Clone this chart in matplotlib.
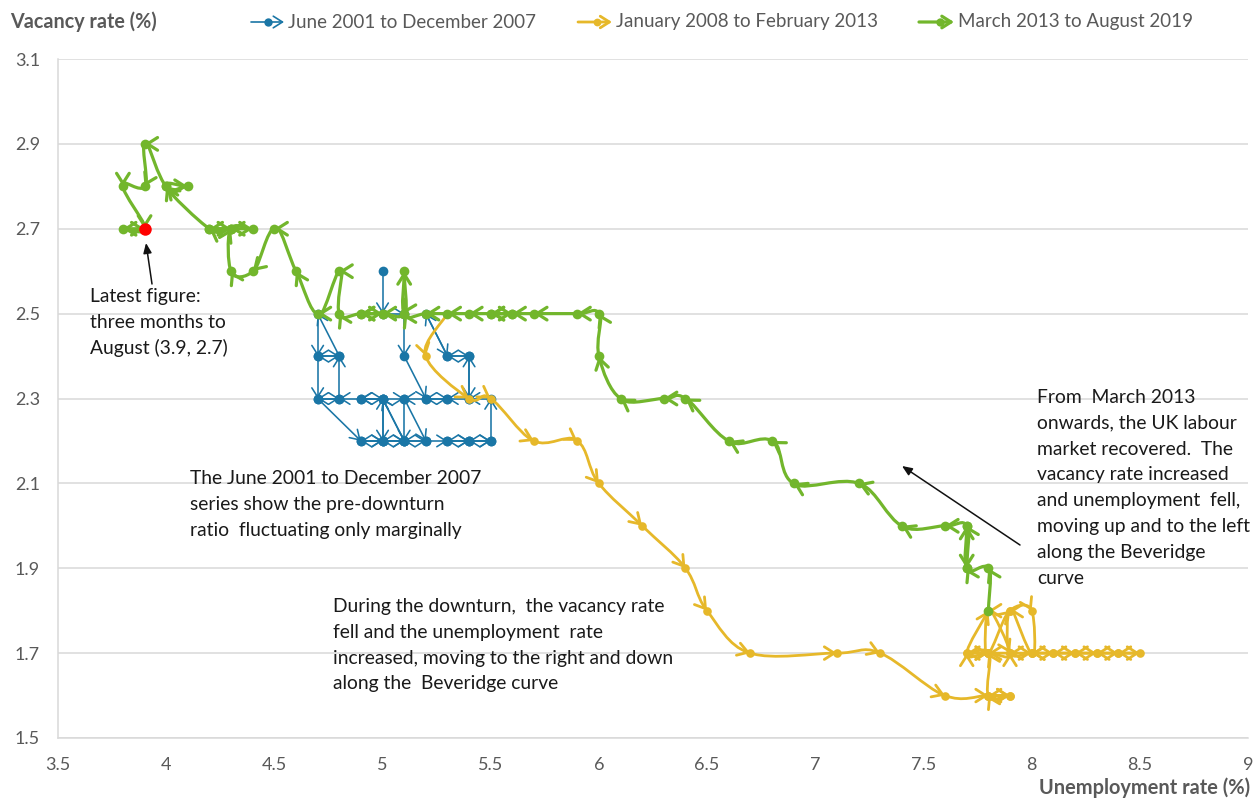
import numpy as np
import matplotlib
matplotlib.use("Agg")
import matplotlib.pyplot as plt
from matplotlib.path import Path
from matplotlib.patches import FancyArrowPatch
from matplotlib.lines import Line2D

# ---------------- data ----------------
blue_unemp = [5.0, 5.0, 5.1, 5.1, 5.2, 5.1, 5.1, 5.0, 5.1, 5.2, 5.1, 5.0, 5.0, 4.9, 5.0, 5.0,
              4.9, 5.0, 5.1, 5.0, 4.9, 4.8, 4.8, 4.7, 4.7, 4.8, 4.7, 4.7, 4.8, 4.7, 4.9, 5.0,
              5.1, 5.2, 5.3, 5.4, 5.3, 5.4, 5.5, 5.4, 5.5, 5.5, 5.4, 5.4, 5.3, 5.2, 5.3, 5.4,
              5.4, 5.3, 5.2, 5.3]
blue_vac = [2.6, 2.5, 2.5, 2.4, 2.3, 2.3, 2.2, 2.3, 2.3, 2.2, 2.2, 2.2, 2.3, 2.3, 2.3, 2.2,
            2.2, 2.2, 2.2, 2.3, 2.3, 2.3, 2.4, 2.5, 2.4, 2.4, 2.4, 2.3, 2.3, 2.3, 2.2, 2.2,
            2.2, 2.2, 2.2, 2.2, 2.2, 2.2, 2.2, 2.2, 2.2, 2.3, 2.3, 2.4, 2.4, 2.5, 2.4, 2.4,
            2.3, 2.3, 2.3, 2.3]

yellow_unemp = [5.3, 5.2, 5.4, 5.5, 5.7, 5.9, 6.0, 6.2, 6.4, 6.5, 6.7, 7.1, 7.3, 7.6, 7.8, 7.9,
                7.8, 7.9, 7.8, 7.8, 7.7, 7.8, 7.9, 7.8, 7.8, 7.9, 8.0, 8.0, 7.9, 7.9, 8.0, 8.1,
                8.2, 8.3, 8.4, 8.5, 8.4, 8.3, 8.2, 8.1, 8.0, 7.9, 7.8, 7.7, 7.8]
yellow_vac = [2.5, 2.4, 2.3, 2.3, 2.2, 2.2, 2.1, 2.0, 1.9, 1.8, 1.7, 1.7, 1.7, 1.6, 1.6, 1.6,
              1.6, 1.6, 1.6, 1.7, 1.7, 1.7, 1.7, 1.8, 1.7, 1.8, 1.8, 1.7, 1.8, 1.7, 1.7, 1.7,
              1.7, 1.7, 1.7, 1.7, 1.7, 1.7, 1.7, 1.7, 1.7, 1.7, 1.7, 1.7, 1.8]

green_unemp = [7.8, 7.8, 7.7, 7.7, 7.7, 7.7, 7.6, 7.4, 7.2, 6.9, 6.8, 6.6, 6.4, 6.3, 6.1, 6.0,
               6.0, 5.9, 5.7, 5.6, 5.5, 5.6, 5.5, 5.4, 5.3, 5.2, 5.1, 5.1, 5.1, 5.0, 4.9, 5.0,
               4.9, 4.8, 4.8, 4.7, 4.6, 4.5, 4.4, 4.3, 4.3, 4.4, 4.3, 4.2, 4.3, 4.2, 4.0, 4.1,
               4.0, 3.9, 3.9, 3.8, 3.9, 3.8, 3.9]
green_vac = [1.8, 1.9, 1.9, 2.0, 1.9, 2.0, 2.0, 2.0, 2.1, 2.1, 2.2, 2.2, 2.3, 2.3, 2.3, 2.4,
             2.5, 2.5, 2.5, 2.5, 2.5, 2.5, 2.5, 2.5, 2.5, 2.5, 2.5, 2.6, 2.5, 2.5, 2.5, 2.5,
             2.5, 2.5, 2.6, 2.5, 2.6, 2.7, 2.6, 2.6, 2.7, 2.7, 2.7, 2.7, 2.7, 2.7, 2.8, 2.8,
             2.8, 2.9, 2.8, 2.8, 2.7, 2.7, 2.7]

latest_point = (3.9, 2.7)

series_labels = ["June 2001 to December 2007", "January 2008 to February 2013",
                 "March 2013 to August 2019"]
x_ticks = [3.5, 4, 4.5, 5, 5.5, 6, 6.5, 7, 7.5, 8, 8.5, 9]
x_tick_labels = ["3.5", "4", "4.5", "5", "5.5", "6", "6.5", "7", "7.5", "8", "8.5", "9"]
y_ticks = [1.5, 1.7, 1.9, 2.1, 2.3, 2.5, 2.7, 2.9, 3.1]
y_tick_labels = ["1.5", "1.7", "1.9", "2.1", "2.3", "2.5", "2.7", "2.9", "3.1"]

# ---------------- style ----------------
BLUE = "#1A76A6"
YELLOW = "#E6B82A"
GREEN = "#72B62C"
GRAY_TXT = "#595959"
GRID = "#D9D9D9"
FONT = "Lato"

W, H = 1255, 798
fig = plt.figure(figsize=(W / 100, H / 100), dpi=100)
ax = fig.add_axes([58 / W, (H - 738) / H, (1248 - 58) / W, (738 - 59) / H])
ax.set_xlim(3.5, 9)
ax.set_ylim(1.5, 3.1)
ax.set_xticks(x_ticks)
ax.set_xticklabels(x_tick_labels)
ax.set_yticks(y_ticks)
ax.set_yticklabels(y_tick_labels)
ax.tick_params(length=0, labelsize=13, labelcolor=GRAY_TXT)
ax.tick_params(axis="y", pad=13)
ax.tick_params(axis="x", pad=14)
for lab in ax.get_xticklabels() + ax.get_yticklabels():
    lab.set_fontfamily(FONT)
ax.grid(axis="y", color=GRID, lw=1.1)
ax.set_axisbelow(True)
for s in ["top", "right"]:
    ax.spines[s].set_visible(False)
for s in ["left", "bottom"]:
    ax.spines[s].set_color(GRID)
    ax.spines[s].set_linewidth(1.1)


def draw_series(xs, ys, color, lw, ms, smooth, z, head=(0.6, 0.38), mscale=12):
    pts = np.column_stack([xs, ys]).astype(float)
    n = len(pts)
    for i in range(n - 1):
        p1, p2 = pts[i], pts[i + 1]
        if smooth:
            p0 = pts[i - 1] if i > 0 else p1
            p3 = pts[i + 2] if i + 2 < n else p2
            c1 = p1 + (p2 - p0) / 6.0
            c2 = p2 - (p3 - p1) / 6.0
            if np.allclose(c1, p1):
                c1 = p1 + (p2 - p1) / 3.0
            if np.allclose(c2, p2):
                c2 = p2 - (p2 - p1) / 3.0
            path = Path([p1, c1, c2, p2], [Path.MOVETO, Path.CURVE4, Path.CURVE4, Path.CURVE4])
        else:
            path = Path([p1, p2], [Path.MOVETO, Path.LINETO])
        arr = FancyArrowPatch(path=path,
                              arrowstyle=f"->,head_length={head[0]},head_width={head[1]}",
                              mutation_scale=mscale, color=color, lw=lw,
                              transform=ax.transData, zorder=z, joinstyle="round",
                              capstyle="round")
        ax.add_patch(arr)
    ax.plot(xs, ys, "o", color=color, ms=ms, zorder=z + 0.1, mew=0)


draw_series(blue_unemp, blue_vac, BLUE, 1.15, 7.0, False, 3, mscale=11)
draw_series(yellow_unemp, yellow_vac, YELLOW, 2.0, 6.2, True, 4)
draw_series(green_unemp, green_vac, GREEN, 2.3, 7.0, True, 5)
ax.plot([latest_point[0]], [latest_point[1]], "o", color="#FF0000", ms=9, zorder=7, mew=0)

# ---------------- annotations ----------------
def px2data(px, py):
    return (3.5 + (px - 58) / (1248 - 58) * 5.5, 3.1 - (py - 59) / (738 - 59) * 1.6)


TXT = "#1A1A1A"
ANN_FS = 13.9


def block(x_px, first_base_px, lines, step=25.8):
    for k, line in enumerate(lines):
        fig.text(x_px / W, 1 - (first_base_px + k * step) / H, line, fontsize=ANN_FS,
                 family=FONT, color=TXT, ha="left", va="baseline")


block(90, 302, ["Latest figure:", "three months to", "August (3.9, 2.7)"])
block(190, 484, ["The June 2001 to December 2007", "series show the pre-downturn",
                 "ratio  fluctuating only marginally"])
block(333, 612, ["During the downturn,  the vacancy rate", "fell and the unemployment  rate",
                 "increased, moving to the right and down", "along the  Beveridge curve"])
block(1037, 403, ["From  March 2013", "onwards, the UK labour", "market recovered.  The",
                  "vacancy rate increased", "and unemployment  fell,",
                  "moving up and to the left", "along the Beveridge", "curve"])

ax.annotate("", xy=px2data(146, 243), xytext=px2data(152, 284),
            arrowprops=dict(arrowstyle="-|>,head_length=0.6,head_width=0.25", color="#111111",
                            lw=1.1, shrinkA=0, shrinkB=0), zorder=8)
ax.annotate("", xy=px2data(902, 466), xytext=px2data(1020, 545),
            arrowprops=dict(arrowstyle="-|>,head_length=0.6,head_width=0.25", color="#111111",
                            lw=1.1, shrinkA=0, shrinkB=0), zorder=8)

# axis titles
fig.text(10 / W, 1 - 22 / H, "Vacancy rate (%)", fontsize=14.2, family=FONT, weight="bold",
         color=GRAY_TXT, ha="left", va="center")
fig.text(1250 / W, 1 - 788 / H, "Unemployment rate (%)", fontsize=14.4, family=FONT,
         weight="bold", color=GRAY_TXT, ha="right", va="center")

# legend (manual)
leg = [(251, 284, 268, BLUE, 1.2, 6.0), (578, 612, 597, YELLOW, 2.0, 5.6),
       (919, 954, 940, GREEN, 2.3, 6.0)]
for (x0, x1, xc, col, lw, ms), lab in zip(leg, series_labels):
    yy = 1 - 22 / H
    a = FancyArrowPatch((x0 / W, yy), (x1 / W, yy), transform=fig.transFigure,
                        arrowstyle="->,head_length=0.6,head_width=0.38", mutation_scale=11,
                        color=col, lw=lw, shrinkA=0, shrinkB=0)
    fig.add_artist(a)
    fig.add_artist(Line2D([xc / W], [yy], transform=fig.transFigure, marker="o", ms=ms,
                          color=col, mew=0))
    fig.text((x1 + 4) / W, yy, lab, fontsize=13.5, family=FONT, color=GRAY_TXT,
             ha="left", va="center")

fig.savefig("out.png", dpi=100)
